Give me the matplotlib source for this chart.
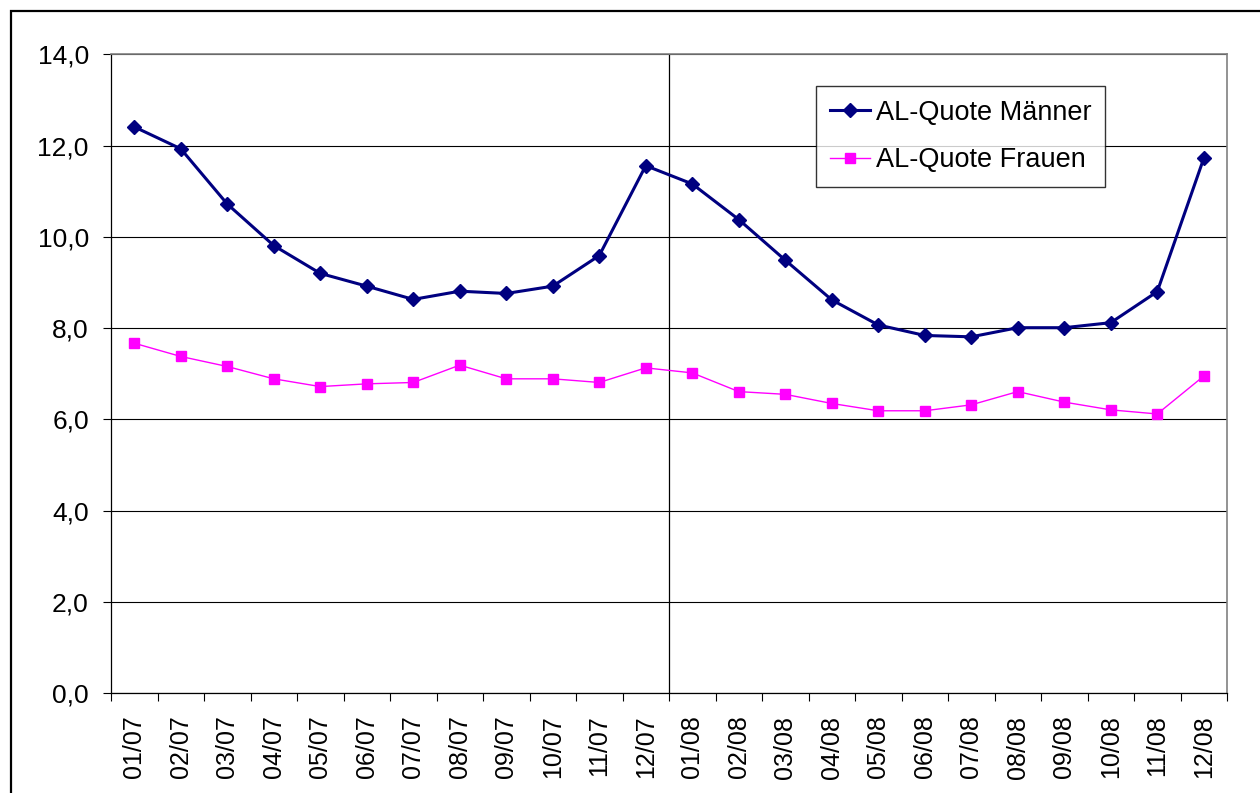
import numpy as np
import matplotlib
matplotlib.use("Agg")
import matplotlib.pyplot as plt
from matplotlib.patches import Rectangle
from matplotlib.ticker import FuncFormatter

plt.rcParams["font.family"] = ["Liberation Sans", "DejaVu Sans"]

MONTHS = [
    "01/07", "02/07", "03/07", "04/07", "05/07", "06/07",
    "07/07", "08/07", "09/07", "10/07", "11/07", "12/07",
    "01/08", "02/08", "03/08", "04/08", "05/08", "06/08",
    "07/08", "08/08", "09/08", "10/08", "11/08", "12/08",
]

QUOTE_MAENNER = [
    12.41, 11.93, 10.72, 9.81, 9.20, 8.92, 8.63, 8.81, 8.76, 8.92, 9.59, 11.56,
    11.16, 10.38, 9.49, 8.62, 8.07, 7.84, 7.81, 8.01, 8.01, 8.12, 8.80, 11.72,
]

QUOTE_FRAUEN = [
    7.67, 7.38, 7.16, 6.89, 6.72, 6.78, 6.81, 7.19, 6.89, 6.89, 6.81, 7.13,
    7.02, 6.61, 6.55, 6.35, 6.19, 6.19, 6.32, 6.61, 6.38, 6.21, 6.12, 6.95,
]

Y_TICKS = [0, 2, 4, 6, 8, 10, 12, 14]

W, H = 1260, 793
fig = plt.figure(figsize=(W / 100, H / 100), dpi=100)
ax = fig.add_axes([111 / W, 1 - 693.3 / H, (1227 - 111) / W, (693.3 - 54.3) / H])

x = np.arange(len(MONTHS))

ax.plot(x, QUOTE_MAENNER, color="#000080", lw=2.2, marker="D", ms=7.5,
        mec="#000080", mfc="#000080", label="AL-Quote Männer", zorder=4)
ax.plot(x, QUOTE_FRAUEN, color="#FF00FF", lw=1.0, marker="s", ms=6.6,
        mec="#FF00FF", mfc="#FF00FF", label="AL-Quote Frauen", zorder=3)

ax.set_xlim(-0.5, len(MONTHS) - 0.5)
ax.set_ylim(0, 14)

# year separator
ax.axvline(11.5, color="black", lw=0.9, zorder=2)

# y axis
ax.set_yticks(Y_TICKS)
ax.yaxis.set_major_formatter(FuncFormatter(lambda v, p: f"{v:.1f}".replace(".", ",")))
ax.yaxis.grid(True, color="black", lw=0.8)
ax.tick_params(axis="y", direction="out", length=6, width=0.8, pad=10, labelsize=19)

# x axis: ticks at boundaries, labels at centers
ax.set_xticks(np.arange(-0.5, len(MONTHS), 1.0))
ax.set_xticklabels([])
ax.tick_params(axis="x", which="major", direction="out", length=6, width=0.8)
ax.set_xticks(x, minor=True)
ax.set_xticklabels(MONTHS, minor=True, rotation=90)
ax.tick_params(axis="x", which="minor", length=0, pad=16, labelsize=18)

for side in ["left", "bottom"]:
    ax.spines[side].set_color("black")
    ax.spines[side].set_linewidth(0.9)
for side in ["top", "right"]:
    ax.spines[side].set_color("#808080")
    ax.spines[side].set_linewidth(1.2)

ax.set_axisbelow(True)

leg = ax.legend(loc="upper left", bbox_to_anchor=((816 - 111) / (1227 - 111), 1 - (86 - 54.3) / (693.3 - 54.3)),
                borderaxespad=0, fontsize=19.5, frameon=True, fancybox=False, handlelength=1.5,
                borderpad=0.5, labelspacing=0.8, handletextpad=0.2)
leg.get_frame().set_edgecolor("black")
leg.get_frame().set_linewidth(1.0)

# outer chart frame
fig.patches.append(Rectangle((11 / W, -0.05), 1.1, 1 - 11 / H + 0.05, transform=fig.transFigure,
                             fill=False, edgecolor="black", lw=1.6, clip_on=False))

fig.savefig("out.png", dpi=100)
